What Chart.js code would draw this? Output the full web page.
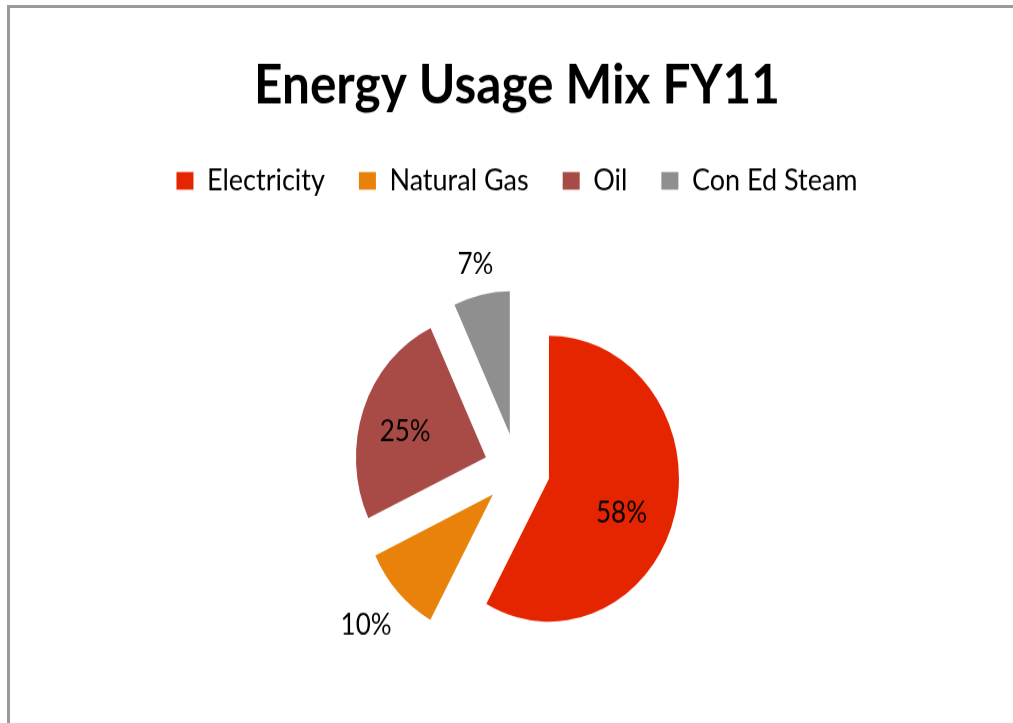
<!DOCTYPE html>
<html lang="en">

<head>
    <meta charset="UTF-8">
    <title>Energy Usage Mix FY11</title>
    <script src="https://cdn.jsdelivr.net/npm/chart.js"></script>
    <style>
        html, body {
            margin: 0;
            padding: 0;
            background: #fff;
            overflow: hidden;
        }

        .ramka {
            position: absolute;
            left: 7px;
            top: 5px;
            width: 1100px;
            height: 800px;
            border-left: 3px solid #9a9a9a;
            border-top: 3px solid #9a9a9a;
        }

        /* the original picture is stretched vertically a little */
        .cho {
            position: absolute;
            left: 0;
            top: 0;
            width: 1013px;
            height: 680px;
            transform: scaleY(1.1);
            transform-origin: 0 0;
        }
    </style>
</head>

<body>
    <div class="ramka"></div>
    <div class="cho"><canvas id="grafik" width="1013" height="680"></canvas></div>

    <script>
        // data
        const categories = ['Electricity', 'Natural Gas', 'Oil', 'Con Ed Steam'];
        const shares = [58, 10, 25, 7];

        // styles
        const colours = ['#e52400', '#e8820b', '#a84b46', '#8f8f8f'];
        const explode = [33, 33, 33, 33];
        const labelDist = [79, 174, 84, 158];
        const labelTurn = [9, 0, -4, 0];

        const shiftSlices = {
            id: 'shiftSlices',
            afterDatasetsUpdate(chart) {
                chart.getDatasetMeta(0).data.forEach((arc, i) => {
                    const mid = (arc.startAngle + arc.endAngle) / 2;
                    arc.x += Math.cos(mid) * explode[i];
                    arc.y += Math.sin(mid) * explode[i];
                });
            }
        };

        const percentLabels = {
            id: 'percentLabels',
            afterDatasetsDraw(chart) {
                const ctx = chart.ctx;
                const total = shares.reduce((a, b) => a + b, 0);
                ctx.save();
                ctx.font = '26px Lato';
                ctx.fillStyle = '#000';
                ctx.textAlign = 'center';
                ctx.textBaseline = 'middle';
                chart.getDatasetMeta(0).data.forEach((arc, i) => {
                    const a = (arc.startAngle + arc.endAngle) / 2 + labelTurn[i] * Math.PI / 180;
                    const x = arc.x + Math.cos(a) * labelDist[i];
                    const y = arc.y + Math.sin(a) * labelDist[i];
                    ctx.fillText(Math.round(shares[i] / total * 100) + '%', x, y);
                });
                ctx.restore();
            }
        };

        Chart.defaults.font.family = 'Lato';
        Chart.defaults.color = '#000';

        new Chart(document.getElementById('grafik'), {
            type: 'pie',
            data: {
                labels: categories,
                datasets: [{
                    data: shares,
                    backgroundColor: colours,
                    borderWidth: 0,
                    radius: 130
                }]
            },
            options: {
                responsive: false,
                animation: false,
                events: [],
                layout: {
                    padding: { left: 21, right: 0, top: 0, bottom: 14 }
                },
                plugins: {
                    title: {
                        display: true,
                        text: 'Energy Usage Mix FY11',
                        font: { size: 49.5, weight: 'bold' },
                        color: '#000',
                        padding: { top: 48, bottom: 9.5 }
                    },
                    legend: {
                        position: 'top',
                        labels: {
                            boxWidth: 17,
                            boxHeight: 16,
                            padding: 34,
                            font: { size: 27 }
                        }
                    },
                    tooltip: { enabled: false }
                }
            },
            plugins: [shiftSlices, percentLabels]
        });
    </script>
</body>

</html>
